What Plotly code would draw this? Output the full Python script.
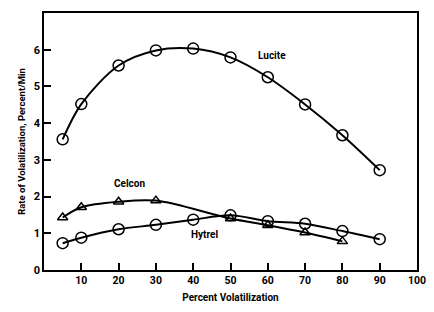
import plotly.graph_objects as go

lucite_x = [5, 10, 20, 30, 40, 50, 60, 70, 80, 90]
lucite_y = [3.56, 4.52, 5.57, 5.98, 6.03, 5.79, 5.25, 4.51, 3.67, 2.72]

celcon_x = [5, 10, 20, 30, 50, 60, 70, 80]
celcon_y = [1.43, 1.71, 1.86, 1.89, 1.40, 1.22, 1.02, 0.78]

hytrel_x = [5, 10, 20, 30, 40, 50, 60, 70, 80, 90]
hytrel_y = [0.73, 0.88, 1.11, 1.23, 1.37, 1.49, 1.33, 1.26, 1.06, 0.84]

x_ticks = [10, 20, 30, 40, 50, 60, 70, 80, 90, 100]
y_ticks = [0, 1, 2, 3, 4, 5, 6]

FONT = "Roboto, Liberation Sans, sans-serif"

fig = go.Figure()
line = dict(color="black", width=2, shape="spline", smoothing=0.9)
fig.add_trace(go.Scatter(x=lucite_x, y=lucite_y, mode="lines+markers", line=line,
                         marker=dict(symbol="circle-open", size=11, color="black", line=dict(width=1.5)),
                         name="Lucite"))
fig.add_trace(go.Scatter(x=celcon_x, y=celcon_y, mode="lines+markers", line=line,
                         marker=dict(symbol="triangle-up-open", size=9, color="black", line=dict(width=1.5)),
                         name="Celcon"))
fig.add_trace(go.Scatter(x=hytrel_x, y=hytrel_y, mode="lines+markers", line=line,
                         marker=dict(symbol="circle-open", size=11, color="black", line=dict(width=1.5)),
                         name="Hytrel"))

for txt, x, y in [("Lucite", 61, 5.84), ("Celcon", 23, 2.36), ("Hytrel", 43, 0.98)]:
    fig.add_annotation(x=x, y=y, text="<b>%s</b>" % txt, showarrow=False,
                       font=dict(family=FONT, size=10, color="black"))

fig.update_layout(
    width=418, height=296,
    margin=dict(l=36, r=9, t=5, b=34),
    paper_bgcolor="white", plot_bgcolor="white",
    showlegend=False,
    font=dict(family=FONT, size=10, color="black"),
)
fig.update_xaxes(range=[0, 100], tickvals=x_ticks, ticktext=["<b>%d</b>" % v for v in x_ticks],
                 ticks="inside", ticklen=7, tickwidth=1.5, tickcolor="black",
                 showline=True, linecolor="black", linewidth=1.5, mirror=True,
                 showgrid=False, zeroline=False, automargin=False,
                 ticklabeloverflow="allow",
                 tickfont=dict(size=10.5),
                 title=dict(text="<b>Percent Volatilization</b>", font=dict(size=10), standoff=8))
fig.update_yaxes(range=[0, 7], tickvals=y_ticks, ticktext=["<b>%d</b>" % v for v in y_ticks],
                 ticks="inside", ticklen=7, tickwidth=1.5, tickcolor="black",
                 showline=True, linecolor="black", linewidth=1.5, mirror=True,
                 showgrid=False, zeroline=False, automargin=False,
                 tickfont=dict(size=11),
                 title=dict(text="<b>Rate of Volatilization, Percent/Min</b>", font=dict(size=9.5), standoff=6))

fig.write_html("out.html")
